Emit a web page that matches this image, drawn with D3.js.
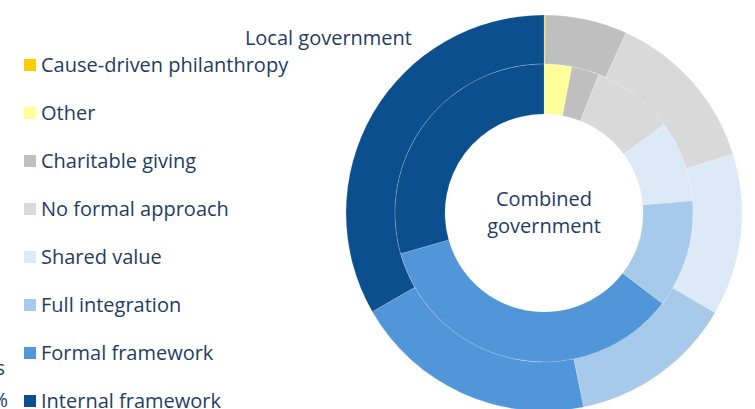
<!DOCTYPE html>
<html>
<head>
<meta charset="utf-8">
<script src="https://cdn.jsdelivr.net/npm/d3@7"></script>
<style>
  html, body { margin: 0; padding: 0; background: #fff; }
  svg { display: block; font-family: "Open Sans", sans-serif; }
</style>
</head>
<body>
<svg id="chart" width="755" height="409"></svg>
<script>
// Approaches, in drawing order (clockwise from 12 o'clock)
const categories = [
  "Cause-driven philanthropy",
  "Other",
  "Charitable giving",
  "No formal approach",
  "Shared value",
  "Full integration",
  "Formal framework",
  "Internal framework"
];
const colors = ["#FFCC00", "#FFFF99", "#BFBFBF", "#D9D9D9", "#DCE9F6", "#A7C9EA", "#5096D9", "#0B4F8F"];

// Share of respondents (%) per ring
const localGovernment    = [0.1, 0, 6.7, 13.4, 13.2, 13.4, 19.9, 33.3];
const combinedGovernment = [0, 3.0, 3.0, 8.9, 8.8, 11.7, 35.2, 29.4];

const svg = d3.select("#chart");
const textColor = "#1F3D63";
const cx = 544, cy = 213;

const pie = d3.pie().sort(null).value(d => d);
const g = svg.append("g").attr("transform", `translate(${cx},${cy})`);

function ring(values, r0, r1, cls) {
  const arc = d3.arc().innerRadius(r0).outerRadius(r1);
  g.selectAll("path." + cls)
    .data(pie(values))
    .join("path")
    .attr("class", cls)
    .attr("d", arc)
    .attr("fill", (d, i) => colors[i])
    .attr("stroke", "rgba(255,255,255,0.35)")
    .attr("stroke-width", 0.5);
}

ring(localGovernment, 149, 198, "outer");
ring(combinedGovernment, 99, 149, "inner");

// Ring labels
svg.append("text")
  .attr("x", 412).attr("y", 45)
  .attr("text-anchor", "end")
  .attr("font-size", 20)
  .attr("fill", textColor)
  .text("Local government");

const center = svg.append("text")
  .attr("x", cx).attr("text-anchor", "middle")
  .attr("font-size", 20).attr("fill", textColor);
center.append("tspan").attr("x", cx).attr("y", 206).text("Combined");
center.append("tspan").attr("x", cx).attr("y", 233).text("government");

// Legend
const legend = svg.append("g");
const rows = legend.selectAll("g")
  .data(categories)
  .join("g")
  .attr("transform", (d, i) => `translate(24,${59 + i * 48})`);
rows.append("rect")
  .attr("width", 12).attr("height", 12)
  .attr("fill", (d, i) => colors[i]);
rows.append("text")
  .attr("x", 17).attr("y", 13)
  .attr("font-size", 20)
  .attr("fill", textColor)
  .text(d => d);

// Trailing fragments of neighbouring text at the left edge
svg.append("text").attr("x", 5).attr("y", 375).attr("text-anchor", "end")
  .attr("font-size", 20).attr("fill", textColor).text("s");
svg.append("text").attr("x", 8).attr("y", 407).attr("text-anchor", "end")
  .attr("font-size", 20).attr("fill", textColor).text("%");
</script>
</body>
</html>
